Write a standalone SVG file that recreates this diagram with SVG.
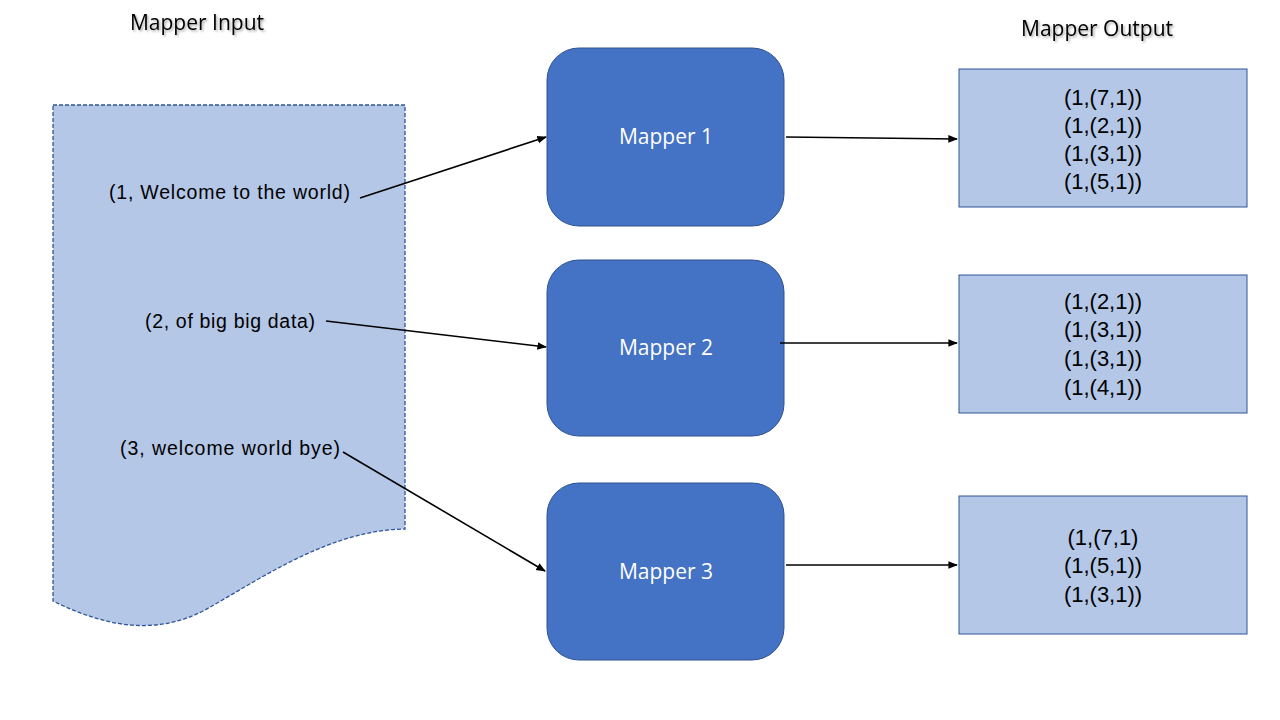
<svg xmlns="http://www.w3.org/2000/svg" width="1280" height="720" viewBox="0 0 1280 720">
<defs>
<style>
.title{font-family:"Open Sans","Noto Sans",sans-serif;font-size:21px;fill:#000;}
.in{font-family:"Liberation Sans",Arial,sans-serif;font-size:19.5px;fill:#000;}
.mapper{fill:#4472C4;stroke:#2F528F;stroke-width:1;}
.mlabel{font-family:"Open Sans","Noto Sans",sans-serif;font-size:21px;fill:#fff;text-anchor:middle;}
.out{fill:#B4C7E7;stroke:#2F5597;stroke-width:1;}
.otext{font-family:"Liberation Sans",Arial,sans-serif;font-size:22px;fill:#000;text-anchor:middle;}
.conn{stroke:#000;stroke-width:1.6;fill:none;marker-end:url(#arrow);}
</style>
<marker id="arrow" viewBox="0 0 10 10" refX="9" refY="5" markerWidth="6" markerHeight="6" orient="auto" markerUnits="strokeWidth">
<path d="M0,1 L10,5 L0,9 z" fill="#000"/>
</marker>
<filter id="shadow" x="-10%" y="-30%" width="130%" height="170%">
<feDropShadow dx="1.5" dy="1.5" stdDeviation="1" flood-color="#000" flood-opacity="0.35"/>
</filter>
</defs>
<rect width="1280" height="720" fill="#fff"/>

<g id="title-input"><text class="title" x="197" y="30" text-anchor="middle" filter="url(#shadow)">Mapper Input</text></g>
<g id="title-output"><text class="title" x="1097" y="36" text-anchor="middle" filter="url(#shadow)">Mapper Output</text></g>

<g id="input-doc">
<path d="M53,105 H405 V529 C330,530 262,578 205,610 C152,638 100,624 53,601 Z" fill="#B4C7E7" stroke="#2F5597" stroke-width="1.3" stroke-dasharray="4,2"/>
<text class="in" x="109" y="199" textLength="241" lengthAdjust="spacing">(1, Welcome to the world)</text>
<text class="in" x="145" y="328" textLength="170" lengthAdjust="spacing">(2, of big big data)</text>
<text class="in" x="120" y="455" textLength="220" lengthAdjust="spacing">(3, welcome world bye)</text>
</g>

<g id="mapper1"><rect class="mapper" x="547" y="48" width="237" height="178" rx="32"/><text class="mlabel" x="666" y="144">Mapper 1</text></g>
<g id="mapper2"><rect class="mapper" x="547" y="260" width="237" height="176" rx="32"/><text class="mlabel" x="666" y="355">Mapper 2</text></g>
<g id="mapper3"><rect class="mapper" x="547" y="483" width="237" height="177" rx="32"/><text class="mlabel" x="666" y="579">Mapper 3</text></g>

<g id="output1"><rect class="out" x="959" y="69" width="288" height="138"/>
<text class="otext" x="1103" y="105">(1,(7,1))</text>
<text class="otext" x="1103" y="133">(1,(2,1))</text>
<text class="otext" x="1103" y="161">(1,(3,1))</text>
<text class="otext" x="1103" y="189">(1,(5,1))</text>
</g>
<g id="output2"><rect class="out" x="959" y="275" width="288" height="138"/>
<text class="otext" x="1103" y="309">(1,(2,1))</text>
<text class="otext" x="1103" y="337">(1,(3,1))</text>
<text class="otext" x="1103" y="366">(1,(3,1))</text>
<text class="otext" x="1103" y="395">(1,(4,1))</text>
</g>
<g id="output3"><rect class="out" x="959" y="496" width="288" height="138"/>
<text class="otext" x="1103" y="545">(1,(7,1)</text>
<text class="otext" x="1103" y="573">(1,(5,1))</text>
<text class="otext" x="1103" y="602">(1,(3,1))</text>
</g>

<g id="connectors">
<line class="conn" x1="360" y1="198" x2="546" y2="137"/>
<line class="conn" x1="326" y1="321" x2="546" y2="347"/>
<line class="conn" x1="343" y1="452" x2="545" y2="571"/>
<line class="conn" x1="786" y1="137" x2="957" y2="139"/>
<line class="conn" x1="780" y1="343" x2="957" y2="343"/>
<line class="conn" x1="786" y1="565" x2="957" y2="565"/>
</g>
</svg>
